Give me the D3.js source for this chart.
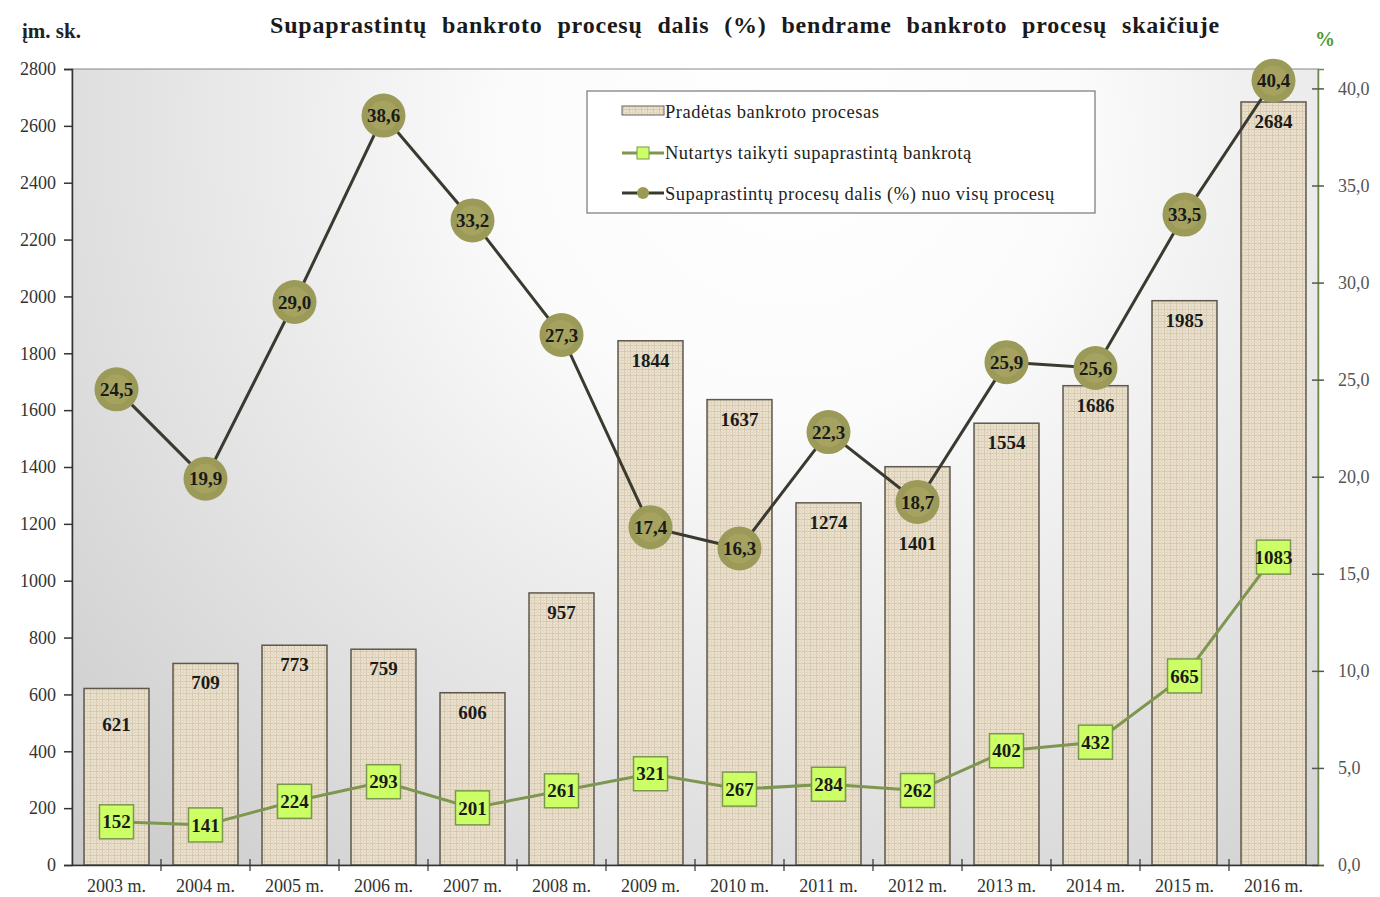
<!DOCTYPE html>
<html>
<head>
<meta charset="utf-8">
<script src="https://cdn.jsdelivr.net/npm/d3@7"></script>
<style>
  body { margin: 0; background: #fff; }
  text { font-family: "Liberation Serif", "Times New Roman", serif; }
</style>
</head>
<body>
<div id="chart"></div>
<script>
const years = ["2003 m.", "2004 m.", "2005 m.", "2006 m.", "2007 m.", "2008 m.", "2009 m.",
  "2010 m.", "2011 m.", "2012 m.", "2013 m.", "2014 m.", "2015 m.", "2016 m."];
const started = [621, 709, 773, 759, 606, 957, 1844, 1637, 1274, 1401, 1554, 1686, 1985, 2684];
const simplified = [152, 141, 224, 293, 201, 261, 321, 267, 284, 262, 402, 432, 665, 1083];
const share = [24.5, 19.9, 29.0, 38.6, 33.2, 27.3, 17.4, 16.3, 22.3, 18.7, 25.9, 25.6, 33.5, 40.4];
const leftTicks = d3.range(0, 2801, 200);
const rightTicks = d3.range(0, 40.1, 5);
const legendLabels = ["Pradėtas bankroto procesas", "Nutartys taikyti supaprastintą bankrotą",
  "Supaprastintų procesų dalis (%) nuo visų procesų"];

const W = 1380, H = 897;
const margin = { top: 69, right: 62, bottom: 32, left: 72 };
const width = W - margin.left - margin.right;
const height = H - margin.top - margin.bottom;

const svg = d3.select("#chart").append("svg")
  .attr("width", W)
  .attr("height", H);

const defs = svg.append("defs");

// background radial shading (coordinates are inside the plot group)
const grad = defs.append("radialGradient")
  .attr("id", "bg")
  .attr("gradientUnits", "userSpaceOnUse")
  .attr("cx", 720).attr("cy", 60).attr("r", 1150);
grad.append("stop").attr("offset", "0%").attr("stop-color", "#ffffff");
grad.append("stop").attr("offset", "25%").attr("stop-color", "#fbfbfb");
grad.append("stop").attr("offset", "100%").attr("stop-color", "#c2c2c2");

// canvas-like texture for bars
const pat = defs.append("pattern")
  .attr("id", "canvas")
  .attr("patternUnits", "userSpaceOnUse")
  .attr("width", 6).attr("height", 6);
pat.append("rect").attr("width", 6).attr("height", 6).attr("fill", "#ebe1cf");
pat.append("path").attr("d", "M0,0.5H6M0.5,0V6")
  .attr("stroke", "#d6c8ae").attr("stroke-width", 1);
pat.append("path").attr("d", "M0,3.5H6M3.5,0V6")
  .attr("stroke", "#e2d6c0").attr("stroke-width", 1);

const g = svg.append("g")
  .attr("transform", "translate(" + margin.left + "," + margin.top + ")");

g.append("rect")
  .attr("width", width)
  .attr("height", height)
  .attr("fill", "url(#bg)");

const x = d3.scaleBand()
  .domain(years)
  .range([0, width])
  .paddingInner(0.27)
  .paddingOuter(0.135);
const yL = d3.scaleLinear().domain([0, 2800]).range([height, 0]);
const yR = d3.scaleLinear().domain([0, 41]).range([height, 0]);

// plot frame
g.append("rect")
  .attr("width", width).attr("height", height)
  .attr("fill", "none").attr("stroke", "#888").attr("stroke-width", 1);

// bars
g.selectAll(".bar")
  .data(started)
  .enter().append("rect")
  .attr("class", "bar")
  .attr("x", (d, i) => x(years[i]))
  .attr("y", d => yL(d))
  .attr("width", x.bandwidth())
  .attr("height", d => height - yL(d))
  .attr("fill", "url(#canvas)")
  .attr("stroke", "#5e584e")
  .attr("stroke-width", 1.5);

// bar labels (2003 and 2012 sit lower in the original)
g.selectAll(".barLabel")
  .data(started)
  .enter().append("text")
  .attr("class", "barLabel")
  .attr("x", (d, i) => x(years[i]) + x.bandwidth() / 2)
  .attr("y", (d, i) => yL(d) + (i === 0 ? 43 : i === 9 ? 83 : 26))
  .attr("text-anchor", "middle")
  .attr("font-size", 19)
  .attr("font-weight", "bold")
  .attr("fill", "#1a1a1a")
  .text(d => d);

const cx = i => x(years[i]) + x.bandwidth() / 2;

// simplified count line (left axis)
g.append("path")
  .datum(simplified)
  .attr("fill", "none")
  .attr("stroke", "#7d9650")
  .attr("stroke-width", 3)
  .attr("d", d3.line().x((d, i) => cx(i)).y(d => yL(d)));

const sq = 34;
const sqG = g.selectAll(".sq")
  .data(simplified)
  .enter().append("g")
  .attr("transform", (d, i) => "translate(" + cx(i) + "," + yL(d) + ")");
sqG.append("rect")
  .attr("x", -sq / 2).attr("y", -sq / 2)
  .attr("width", sq).attr("height", sq)
  .attr("fill", "#ccff66")
  .attr("stroke", "#7d9650")
  .attr("stroke-width", 1.5);
sqG.append("text")
  .attr("text-anchor", "middle")
  .attr("dy", "0.35em")
  .attr("font-size", 19)
  .attr("font-weight", "bold")
  .attr("fill", "#1a1a1a")
  .text(d => d);

// share line (right axis)
g.append("path")
  .datum(share)
  .attr("fill", "none")
  .attr("stroke", "#3b3a30")
  .attr("stroke-width", 3)
  .attr("d", d3.line().x((d, i) => cx(i)).y(d => yR(d)));

const cG = g.selectAll(".dot")
  .data(share)
  .enter().append("g")
  .attr("transform", (d, i) => "translate(" + cx(i) + "," + yR(d) + ")");
cG.append("circle")
  .attr("r", 22)
  .attr("fill", "#9b9a58");
cG.append("circle")
  .attr("r", 15)
  .attr("fill", "#a9a762")
  .attr("opacity", 0.7);
cG.append("text")
  .attr("text-anchor", "middle")
  .attr("dy", "0.35em")
  .attr("font-size", 19)
  .attr("font-weight", "bold")
  .attr("fill", "#1a1a1a")
  .text(d => d.toFixed(1).replace(".", ","));

// left axis
const axL = g.append("g")
  .call(d3.axisLeft(yL).tickValues(leftTicks).tickSize(8).tickPadding(8).tickFormat(d3.format("d")));
axL.select(".domain").attr("stroke", "#333").attr("stroke-width", 1.5);
axL.selectAll(".tick line").attr("stroke", "#333").attr("stroke-width", 1.5);
axL.selectAll("text")
  .attr("font-family", "Liberation Serif, serif")
  .attr("font-size", 18).attr("fill", "#333");

// right axis
const axR = g.append("g")
  .attr("transform", "translate(" + width + ",0)")
  .call(d3.axisRight(yR).tickValues(rightTicks).tickSize(6).tickPadding(14)
    .tickFormat(d => d.toFixed(1).replace(".", ",")));
axR.select(".domain").attr("stroke", "#6b8a4a").attr("stroke-width", 1.5);
axR.selectAll(".tick line").attr("x1", -6).attr("stroke", "#555").attr("stroke-width", 1.5);
axR.selectAll("text")
  .attr("font-family", "Liberation Serif, serif")
  .attr("font-size", 18).attr("fill", "#555");

// bottom axis
const axB = g.append("g")
  .attr("transform", "translate(0," + height + ")")
  .call(d3.axisBottom(x).tickSize(0).tickPadding(14));
axB.select(".domain").attr("stroke", "#333").attr("stroke-width", 1.5);
axB.selectAll("text")
  .attr("font-family", "Liberation Serif, serif")
  .attr("font-size", 18).attr("fill", "#333");
axB.selectAll(".sep")
  .data(d3.range(1, years.length))
  .enter().append("line")
  .attr("class", "sep")
  .attr("x1", i => x.step() * i)
  .attr("x2", i => x.step() * i)
  .attr("y1", -6).attr("y2", 6)
  .attr("stroke", "#333").attr("stroke-width", 1.2);

// legend
const lg = svg.append("g").attr("transform", "translate(587,91)");
lg.append("rect")
  .attr("width", 508).attr("height", 122)
  .attr("fill", "#fff").attr("stroke", "#777").attr("stroke-width", 1.2);
lg.append("rect")
  .attr("x", 35).attr("y", 15).attr("width", 42).attr("height", 9)
  .attr("fill", "url(#canvas)").attr("stroke", "#6b6458");
lg.append("line")
  .attr("x1", 35).attr("x2", 77).attr("y1", 62).attr("y2", 62)
  .attr("stroke", "#7d9650").attr("stroke-width", 3);
lg.append("rect")
  .attr("x", 50).attr("y", 56).attr("width", 12).attr("height", 12)
  .attr("fill", "#ccff66").attr("stroke", "#7d9650");
lg.append("line")
  .attr("x1", 35).attr("x2", 77).attr("y1", 102).attr("y2", 102)
  .attr("stroke", "#3b3a30").attr("stroke-width", 3);
lg.append("circle")
  .attr("cx", 56).attr("cy", 102).attr("r", 6).attr("fill", "#9b9a55");
lg.selectAll(".lgText")
  .data(legendLabels)
  .enter().append("text")
  .attr("x", 78)
  .attr("y", (d, i) => 27 + i * 41)
  .attr("font-size", 18.5)
  .attr("letter-spacing", 0.5)
  .attr("fill", "#222")
  .text(d => d);

// titles
svg.append("text")
  .attr("x", 745).attr("y", 33)
  .attr("text-anchor", "middle")
  .attr("font-size", 24).attr("font-weight", "bold").attr("fill", "#1a1a1a")
  .attr("letter-spacing", 0.8).attr("word-spacing", 8)
  .text("Supaprastintų bankroto procesų dalis (%) bendrame bankroto procesų skaičiuje");
svg.append("text")
  .attr("x", 22).attr("y", 38)
  .attr("font-size", 21).attr("font-weight", "bold").attr("fill", "#222")
  .text("įm. sk.");
svg.append("text")
  .attr("x", 1325).attr("y", 46)
  .attr("text-anchor", "middle")
  .attr("font-size", 20).attr("font-weight", "bold").attr("fill", "#4a9a3a")
  .text("%");
</script>
</body>
</html>
